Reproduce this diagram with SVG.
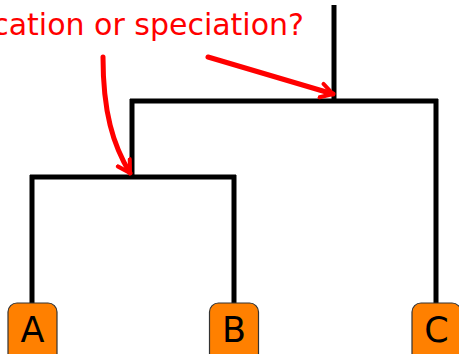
<svg xmlns="http://www.w3.org/2000/svg" width="459" height="354" viewBox="0 0 459 354">
<style>
.tree{fill:none;stroke:#000;stroke-width:5;stroke-linecap:butt}
.arr{fill:none;stroke:#ff0000;stroke-width:5;stroke-linecap:round}
.box{fill:#ff8000;stroke:#333;stroke-width:1.2}
.lbl{font-family:"DejaVu Sans","Liberation Sans",sans-serif;font-size:35px;fill:#000;text-anchor:middle}
.q{font-family:"DejaVu Sans","Liberation Sans",sans-serif;font-size:30px;fill:#ff0000;text-anchor:end}
</style>
<defs>
<marker id="chev" markerUnits="userSpaceOnUse" markerWidth="20" markerHeight="20" refX="14" refY="8" orient="auto" viewBox="0 0 20 16">
<path d="M2,1 L14,8 L2,15" fill="none" stroke="#ff0000" stroke-width="4" stroke-linecap="round" stroke-linejoin="round"/>
</marker>
</defs>
<g id="connectors">
<path class="tree" d="M334,5 V101"/>
<path class="tree" d="M130,101 H438"/>
<path class="tree" d="M132,99 V177"/>
<path class="tree" d="M436,99 V304"/>
<path class="tree" d="M30,177 H236"/>
<path class="tree" d="M32,175 V304"/>
<path class="tree" d="M234,175 V304"/>
<path class="arr" d="M103,57 C103,112 113,145 130,173" marker-end="url(#chev)"/>
<path class="arr" d="M208,57 L333,94" marker-end="url(#chev)"/>
</g>
<g id="question"><text class="q" x="304" y="35">duplication or speciation?</text></g>
<g id="nodeA"><rect class="box" x="8" y="303" width="49" height="60" rx="9"/><text class="lbl" x="32.5" y="342">A</text></g>
<g id="nodeB"><rect class="box" x="209.5" y="303" width="49" height="60" rx="9"/><text class="lbl" x="234" y="342">B</text></g>
<g id="nodeC"><rect class="box" x="412" y="303" width="49" height="60" rx="9"/><text class="lbl" x="436.5" y="342">C</text></g>
</svg>
